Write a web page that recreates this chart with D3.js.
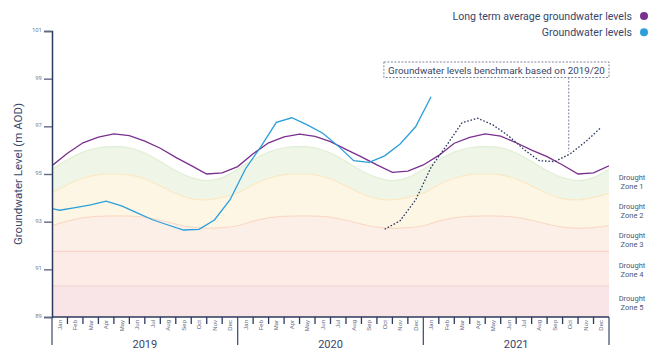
<!DOCTYPE html>
<html><head><meta charset="utf-8">
<script src="https://cdn.jsdelivr.net/npm/d3@7/dist/d3.min.js"></script>
<style>
body{margin:0;background:#fff}
svg{display:block;font-family:Roboto,"Noto Sans",sans-serif}
</style>
</head><body>
<svg id="chart" width="656" height="363"></svg>
<script>
// ---------- DATA ----------
const monthNames = ["Jan","Feb","Mar","Apr","May","Jun","Jul","Aug","Sep","Oct","Nov","Dec"];
const years = ["2019","2020","2021"];
const yTickValues = [89, 91, 93, 95, 97, 99, 101];

// Long term average: values at the start of each month, Jan 2019 .. Jan 2022 (37)
const longTermAvg = [
  95.35, 95.87, 96.31, 96.55, 96.68, 96.61, 96.38, 96.08, 95.70, 95.35, 95.00, 95.05,
  95.31, 95.85, 96.31, 96.56, 96.67, 96.58, 96.36, 96.03, 95.72, 95.38, 95.07, 95.12,
  95.38, 95.78, 96.29, 96.54, 96.68, 96.59, 96.31, 96.00, 95.73, 95.38, 95.00, 95.05,
  95.34
];

// Groundwater levels: mid-month values, Dec 2018 .. Jan 2021 (26)
const groundwaterStart = -1; // month index of first value (Dec 2018)
const groundwater = [
  93.61,
  93.48, 93.59, 93.70, 93.86, 93.66, 93.37, 93.08, 92.86, 92.65, 92.68, 93.07, 93.91,
  95.21, 96.15, 97.17, 97.36, 97.06, 96.71, 96.17, 95.56, 95.49, 95.76, 96.26, 96.98,
  98.24
];

// Benchmark based on 2019/20: mid-month values, Oct 2020 .. Dec 2021 (15)
const benchmarkStart = 21; // Oct 2020
const benchmark = [
  92.68, 93.04, 93.91,
  95.28, 96.20, 97.15, 97.34, 97.06, 96.60, 96.03, 95.56, 95.52, 95.85, 96.36, 96.96
];

// Drought zone boundaries: values at the start of each month, Jan 2019 .. Jan 2022 (37)
const zone1Top = [
  95.20, 95.60, 95.92, 96.10, 96.15, 96.10, 95.88, 95.52, 95.14, 94.85, 94.72, 94.85,
  95.20, 95.60, 95.92, 96.10, 96.15, 96.10, 95.88, 95.52, 95.14, 94.85, 94.72, 94.85,
  95.20, 95.60, 95.92, 96.10, 96.15, 96.10, 95.88, 95.52, 95.14, 94.85, 94.72, 94.85,
  95.20
];
const zone2Top = [
  94.20, 94.55, 94.82, 94.97, 95.00, 94.96, 94.79, 94.50, 94.18, 93.97, 93.92, 94.02,
  94.20, 94.55, 94.82, 94.97, 95.00, 94.96, 94.79, 94.50, 94.18, 93.97, 93.92, 94.02,
  94.20, 94.55, 94.82, 94.97, 95.00, 94.96, 94.79, 94.50, 94.18, 93.97, 93.92, 94.02,
  94.20
];
const zone3Top = [
  92.83, 93.02, 93.16, 93.22, 93.24, 93.23, 93.18, 93.06, 92.90, 92.77, 92.72, 92.75,
  92.83, 93.02, 93.16, 93.22, 93.24, 93.23, 93.18, 93.06, 92.90, 92.77, 92.72, 92.75,
  92.83, 93.02, 93.16, 93.22, 93.24, 93.23, 93.18, 93.06, 92.90, 92.77, 92.72, 92.75,
  92.83
];
const zone4Top = 91.75;
const zone5Top = 90.30;
const zoneBase = 89;

const zoneNames = ["Zone 1","Zone 2","Zone 3","Zone 4","Zone 5"];
const legendLabels = ["Long term average groundwater levels","Groundwater levels"];
const annotationText = "Groundwater levels benchmark based on 2019/20";
const yTitle = "Groundwater Level (m AOD)";

// ---------- LAYOUT / STYLE ----------
const plot = {left: 52, right: 609, top: 31, bottom: 317};
const navy = "#2c3a5e";
const textCol = "#38466a";
const purple = "#7b2f8e";
const blue = "#2b9fd9";
const zoneFill = ["#eff6e7", "#fdf6e5", "#fcefe7", "#fcebe6", "#f9e4e7"];
const zoneEdge = ["#e2eed5", "#fbe8c3", "#fadac6", "#f8d3c9", "#f5cfd2"];

const svg = d3.select("#chart");
const nMonths = monthNames.length * years.length;

const x = d3.scaleLinear().domain([0, nMonths]).range([plot.left, plot.right]);
const y = d3.scaleLinear().domain([89, 101]).range([plot.bottom, plot.top]);

svg.append("defs").append("clipPath").attr("id", "clip")
  .append("rect").attr("x", plot.left).attr("y", 0)
  .attr("width", plot.right - plot.left).attr("height", plot.bottom);

const g = svg.append("g").attr("clip-path", "url(#clip)");

// ---------- Drought zones ----------
const idx = d3.range(nMonths + 1);
const cv = d3.curveCatmullRom;
const val = (arr, i) => (typeof arr === "number" ? arr : arr[i]);
const bounds = [zone1Top, zone2Top, zone3Top, zone4Top, zone5Top, zoneBase];

for (let z = 0; z < 5; z++) {
  const top = bounds[z], bot = bounds[z + 1];
  g.append("path")
    .datum(idx)
    .attr("fill", zoneFill[z])
    .attr("d", d3.area().curve(cv)
      .x(i => x(i)).y0(i => y(val(bot, i))).y1(i => y(val(top, i))));
}
for (let z = 0; z < 5; z++) {
  const top = bounds[z];
  g.append("path")
    .datum(idx)
    .attr("fill", "none")
    .attr("stroke", zoneEdge[z])
    .attr("stroke-width", 1.2)
    .attr("d", d3.line().curve(cv).x(i => x(i)).y(i => y(val(top, i))));
}

// ---------- Lines ----------
g.append("path")
  .datum(longTermAvg)
  .attr("fill", "none").attr("stroke", purple).attr("stroke-width", 1.3)
  .attr("d", d3.line().x((d, i) => x(i)).y(d => y(d)));

g.append("path")
  .datum(groundwater)
  .attr("fill", "none").attr("stroke", blue).attr("stroke-width", 1.3)
  .attr("d", d3.line().x((d, i) => x(groundwaterStart + i + 0.5)).y(d => y(d)));

g.append("path")
  .datum(benchmark)
  .attr("fill", "none").attr("stroke", navy).attr("stroke-width", 1.3)
  .attr("stroke-dasharray", "1.6,1.8")
  .attr("d", d3.line().x((d, i) => x(benchmarkStart + i + 0.5)).y(d => y(d)));

// ---------- Y axis ----------
const yAxis = svg.append("g")
  .attr("transform", `translate(${plot.left},0)`)
  .call(d3.axisLeft(y).tickValues(yTickValues).tickSize(8).tickPadding(2).tickFormat(d3.format("d")));
yAxis.select(".domain").attr("stroke", navy).attr("stroke-width", 1.5);
yAxis.selectAll(".tick line").attr("stroke", "#5f6a86").attr("stroke-width", 1.4);
yAxis.selectAll(".tick text").attr("fill", "#7a8196").attr("font-size", 6).attr("dy", "0.1em")
  .attr("font-family", "Roboto");

svg.append("text")
  .attr("transform", `translate(18,${(plot.top + plot.bottom) / 2}) rotate(-90)`)
  .attr("text-anchor", "middle").attr("dominant-baseline", "central")
  .attr("fill", textCol).attr("font-size", 11.5)
  .text(yTitle);

// ---------- X axis ----------
const monthKeys = d3.range(nMonths);
const xBand = d3.scaleBand().domain(monthKeys).range([plot.left, plot.right]);
const xAxis = svg.append("g")
  .attr("transform", `translate(0,${plot.bottom})`)
  .call(d3.axisBottom(xBand).tickSize(0).tickPadding(0)
    .tickFormat(i => monthNames[i % 12]));
xAxis.select(".domain").remove();
xAxis.selectAll(".tick text")
  .attr("transform", "rotate(-90)")
  .attr("text-anchor", "end")
  .attr("x", -3).attr("y", 0).attr("dy", "0.35em")
  .attr("fill", "#5c6680").attr("font-size", 6);

// month tick marks (boundaries)
svg.append("g").selectAll("line")
  .data(d3.range(1, nMonths).filter(i => i % 12 !== 0))
  .join("line")
  .attr("x1", i => x(i)).attr("x2", i => x(i))
  .attr("y1", plot.bottom).attr("y2", plot.bottom + 7)
  .attr("stroke", navy).attr("stroke-width", 1.3);

// year separators
svg.append("g").selectAll("line")
  .data(d3.range(0, nMonths + 1, 12))
  .join("line")
  .attr("x1", i => x(i)).attr("x2", i => x(i))
  .attr("y1", plot.bottom).attr("y2", plot.bottom + 28)
  .attr("stroke", "#4a5574").attr("stroke-width", 1.3);

svg.append("line")
  .attr("x1", plot.left).attr("x2", plot.right)
  .attr("y1", plot.bottom).attr("y2", plot.bottom)
  .attr("stroke", navy).attr("stroke-width", 1.5);

svg.append("g").selectAll("text")
  .data(years)
  .join("text")
  .attr("x", (d, i) => x(i * 12 + 6))
  .attr("y", 348)
  .attr("text-anchor", "middle")
  .attr("fill", textCol).attr("font-size", 11)
  .text(d => d);

// ---------- Zone labels ----------
const last = nMonths;
const zl = svg.append("g");
zoneNames.forEach((name, z) => {
  const mid = (val(bounds[z], last) + val(bounds[z + 1], last)) / 2;
  const t = zl.append("text")
    .attr("x", 632).attr("y", y(mid) + 1)
    .attr("text-anchor", "middle").attr("fill", "#4b5675").attr("font-size", 7.5);
  t.append("tspan").attr("x", 632).attr("dy", "-0.25em").text("Drought");
  t.append("tspan").attr("x", 632).attr("dy", "1.2em").text(name);
});

// ---------- Legend ----------
const legendColors = [purple, blue];
const lg = svg.append("g");
legendLabels.forEach((lab, i) => {
  const cy = 16 + i * 16.3;
  lg.append("text").attr("x", 632).attr("y", cy)
    .attr("text-anchor", "end").attr("dominant-baseline", "central")
    .attr("fill", textCol).attr("font-size", 10.6).text(lab);
  lg.append("circle").attr("cx", 644).attr("cy", cy).attr("r", 4).attr("fill", legendColors[i]);
});

// ---------- Annotation ----------
const annX = x(21.45), annW = plot.right - annX;
svg.append("rect")
  .attr("x", annX).attr("y", 62).attr("width", annW).attr("height", 15.5)
  .attr("fill", "#fff").attr("stroke", "#5d6784").attr("stroke-width", 0.8)
  .attr("stroke-dasharray", "2,1.5");
svg.append("text")
  .attr("x", annX + annW / 2).attr("y", 70)
  .attr("text-anchor", "middle").attr("dominant-baseline", "central")
  .attr("fill", textCol).attr("font-size", 9.8).text(annotationText);
svg.append("line")
  .attr("x1", x(33.4)).attr("x2", x(33.4))
  .attr("y1", 77.5).attr("y2", y(benchmark[12]) - 2)
  .attr("stroke", "#5d6784").attr("stroke-width", 0.8).attr("stroke-dasharray", "2,1.5");
</script>
</body></html>
